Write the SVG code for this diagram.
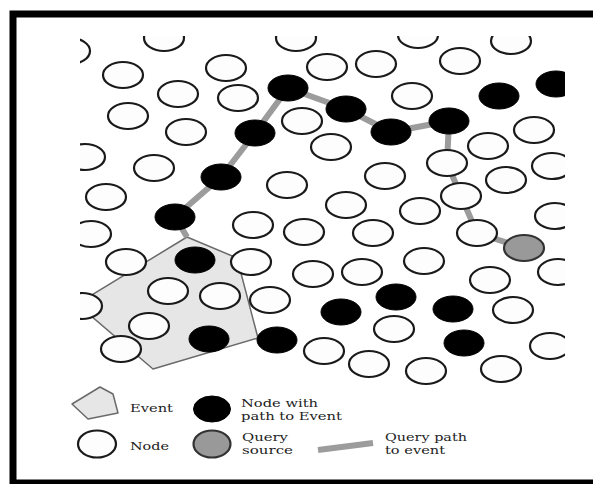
<svg xmlns="http://www.w3.org/2000/svg" width="593" height="484" viewBox="0 0 593 484">
<style>
.n{fill:#fdfdfd;stroke:#1a1a1a;stroke-width:2.2}
.b{fill:#000;stroke:#000;stroke-width:1}
.q{fill:#999;stroke:#333;stroke-width:2.2}
.ev{fill:#e6e6e6;stroke:#6a6a6a;stroke-width:1.5;stroke-linejoin:round}
.path{fill:none;stroke:#9c9c9c;stroke-width:6;stroke-linejoin:round}
.t{font-family:"DejaVu Serif","Liberation Serif",serif;font-size:11px;fill:#222}
</style>
<defs>
<clipPath id="area"><rect x="80" y="36" width="485" height="360"/></clipPath>
</defs>
<rect x="0" y="0" width="593" height="484" fill="#fff"/>
<rect x="13" y="14" width="600" height="469" fill="none" stroke="#000" stroke-width="7"/>
<g clip-path="url(#area)">
<g id="event"><polygon class="ev" points="77,304 187,237 237,258 258,338 153,369"/></g>
<g id="connectors">
<polyline class="path" points="187,237 175,217 221,177 255,133 288,88 346,109 391,132 449,121 447,163 461,196 477,233 524,248"/>
</g>
<g id="nodes">
<ellipse id="n1" class="n" cx="70" cy="51" rx="20" ry="13"/>
<ellipse id="n2" class="n" cx="164" cy="38" rx="20" ry="13"/>
<ellipse id="n3" class="n" cx="296" cy="38" rx="20" ry="13"/>
<ellipse id="n4" class="n" cx="418" cy="35" rx="20" ry="13"/>
<ellipse id="n5" class="n" cx="511" cy="41" rx="20" ry="13"/>
<ellipse id="n6" class="n" cx="123" cy="75" rx="20" ry="13"/>
<ellipse id="n7" class="n" cx="226" cy="68" rx="20" ry="13"/>
<ellipse id="n8" class="n" cx="327" cy="67" rx="20" ry="13"/>
<ellipse id="n9" class="n" cx="376" cy="64" rx="20" ry="13"/>
<ellipse id="n10" class="n" cx="460" cy="61" rx="20" ry="13"/>
<ellipse id="n11" class="n" cx="178" cy="94" rx="20" ry="13"/>
<ellipse id="n12" class="n" cx="238" cy="98" rx="20" ry="13"/>
<ellipse id="n13" class="n" cx="412" cy="96" rx="20" ry="13"/>
<ellipse id="n14" class="n" cx="128" cy="116" rx="20" ry="13"/>
<ellipse id="n15" class="n" cx="186" cy="132" rx="20" ry="13"/>
<ellipse id="n16" class="n" cx="302" cy="121" rx="20" ry="13"/>
<ellipse id="n17" class="n" cx="534" cy="130" rx="20" ry="13"/>
<ellipse id="n18" class="n" cx="331" cy="147" rx="20" ry="13"/>
<ellipse id="n19" class="n" cx="488" cy="146" rx="20" ry="13"/>
<ellipse id="n20" class="n" cx="85" cy="157" rx="20" ry="13"/>
<ellipse id="n21" class="n" cx="154" cy="168" rx="20" ry="13"/>
<ellipse id="n22" class="n" cx="447" cy="163" rx="20" ry="13"/>
<ellipse id="n23" class="n" cx="552" cy="166" rx="20" ry="13"/>
<ellipse id="n24" class="n" cx="385" cy="176" rx="20" ry="13"/>
<ellipse id="n25" class="n" cx="287" cy="185" rx="20" ry="13"/>
<ellipse id="n26" class="n" cx="506" cy="180" rx="20" ry="13"/>
<ellipse id="n27" class="n" cx="106" cy="197" rx="20" ry="13"/>
<ellipse id="n28" class="n" cx="461" cy="196" rx="20" ry="13"/>
<ellipse id="n29" class="n" cx="346" cy="205" rx="20" ry="13"/>
<ellipse id="n30" class="n" cx="420" cy="211" rx="20" ry="13"/>
<ellipse id="n31" class="n" cx="555" cy="216" rx="20" ry="13"/>
<ellipse id="n32" class="n" cx="253" cy="225" rx="20" ry="13"/>
<ellipse id="n33" class="n" cx="304" cy="232" rx="20" ry="13"/>
<ellipse id="n34" class="n" cx="373" cy="233" rx="20" ry="13"/>
<ellipse id="n35" class="n" cx="477" cy="233" rx="20" ry="13"/>
<ellipse id="n36" class="n" cx="91" cy="234" rx="20" ry="13"/>
<ellipse id="n37" class="n" cx="126" cy="262" rx="20" ry="13"/>
<ellipse id="n38" class="n" cx="251" cy="262" rx="20" ry="13"/>
<ellipse id="n39" class="n" cx="424" cy="261" rx="20" ry="13"/>
<ellipse id="n40" class="n" cx="313" cy="274" rx="20" ry="13"/>
<ellipse id="n41" class="n" cx="362" cy="272" rx="20" ry="13"/>
<ellipse id="n42" class="n" cx="558" cy="272" rx="20" ry="13"/>
<ellipse id="n43" class="n" cx="490" cy="280" rx="20" ry="13"/>
<ellipse id="n44" class="n" cx="168" cy="291" rx="20" ry="13"/>
<ellipse id="n45" class="n" cx="220" cy="296" rx="20" ry="13"/>
<ellipse id="n46" class="n" cx="270" cy="300" rx="20" ry="13"/>
<ellipse id="n47" class="n" cx="82" cy="306" rx="20" ry="13"/>
<ellipse id="n48" class="n" cx="513" cy="310" rx="20" ry="13"/>
<ellipse id="n49" class="n" cx="149" cy="326" rx="20" ry="13"/>
<ellipse id="n50" class="n" cx="394" cy="329" rx="20" ry="13"/>
<ellipse id="n51" class="n" cx="121" cy="349" rx="20" ry="13"/>
<ellipse id="n52" class="n" cx="324" cy="351" rx="20" ry="13"/>
<ellipse id="n53" class="n" cx="550" cy="346" rx="20" ry="13"/>
<ellipse id="n54" class="n" cx="369" cy="364" rx="20" ry="13"/>
<ellipse id="n55" class="n" cx="426" cy="371" rx="20" ry="13"/>
<ellipse id="n56" class="n" cx="501" cy="369" rx="20" ry="13"/>
<ellipse id="b1" class="b" cx="288" cy="88" rx="20" ry="13"/>
<ellipse id="b2" class="b" cx="346" cy="109" rx="20" ry="13"/>
<ellipse id="b3" class="b" cx="391" cy="132" rx="20" ry="13"/>
<ellipse id="b4" class="b" cx="449" cy="121" rx="20" ry="13"/>
<ellipse id="b5" class="b" cx="499" cy="96" rx="20" ry="13"/>
<ellipse id="b6" class="b" cx="556" cy="84" rx="20" ry="13"/>
<ellipse id="b7" class="b" cx="255" cy="133" rx="20" ry="13"/>
<ellipse id="b8" class="b" cx="221" cy="177" rx="20" ry="13"/>
<ellipse id="b9" class="b" cx="175" cy="217" rx="20" ry="13"/>
<ellipse id="b10" class="b" cx="195" cy="260" rx="20" ry="13"/>
<ellipse id="b11" class="b" cx="209" cy="339" rx="20" ry="13"/>
<ellipse id="b12" class="b" cx="277" cy="340" rx="20" ry="13"/>
<ellipse id="b13" class="b" cx="341" cy="312" rx="20" ry="13"/>
<ellipse id="b14" class="b" cx="396" cy="297" rx="20" ry="13"/>
<ellipse id="b15" class="b" cx="453" cy="309" rx="20" ry="13"/>
<ellipse id="b16" class="b" cx="464" cy="343" rx="20" ry="13"/>
<ellipse id="src" class="q" cx="524" cy="248" rx="20" ry="13"/>
</g>
</g>
<g id="legend">
<g id="leg-event">
<polygon class="ev" points="72,404 100,387 113,394 118,413 88,419"/>
<text class="t" x="130" y="412" textLength="43" lengthAdjust="spacingAndGlyphs">Event</text>
</g>
<g id="leg-black">
<ellipse class="b" cx="212" cy="409" rx="18.5" ry="13"/>
<text class="t" x="241" y="407" textLength="77" lengthAdjust="spacingAndGlyphs">Node with</text>
<text class="t" x="241" y="420" textLength="101" lengthAdjust="spacingAndGlyphs">path to Event</text>
</g>
<g id="leg-node">
<ellipse class="n" cx="97" cy="444" rx="19" ry="13.5" stroke-width="2.6"/>
<text class="t" x="130" y="450" textLength="39" lengthAdjust="spacingAndGlyphs">Node</text>
</g>
<g id="leg-source">
<ellipse class="q" cx="212" cy="444" rx="18.5" ry="13.5"/>
<text class="t" x="242" y="441" textLength="46" lengthAdjust="spacingAndGlyphs">Query</text>
<text class="t" x="242" y="454" textLength="51" lengthAdjust="spacingAndGlyphs">source</text>
</g>
<g id="leg-path">
<line x1="318" y1="450" x2="373" y2="443" stroke="#9c9c9c" stroke-width="6"/>
<text class="t" x="385" y="441" textLength="82" lengthAdjust="spacingAndGlyphs">Query path</text>
<text class="t" x="385" y="454" textLength="60" lengthAdjust="spacingAndGlyphs">to event</text>
</g>
</g>
</svg>
